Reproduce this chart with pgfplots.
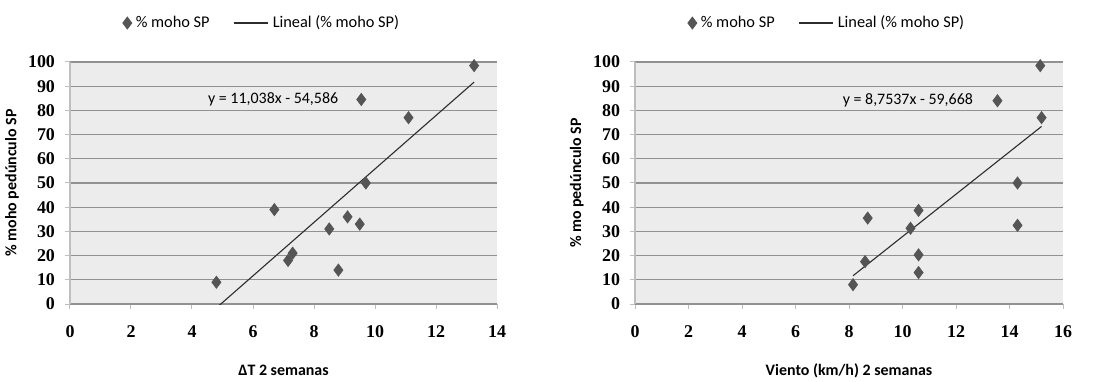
\documentclass[border=0pt]{standalone}
\usepackage{fontspec}
\setmainfont{Carlito}
\newfontfamily\tickfont{Liberation Serif}
\usepackage{pgfplots}
\pgfplotsset{compat=1.18}
\definecolor{bgcol}{RGB}{236,236,236}
\definecolor{gridcol}{RGB}{145,145,145}
\definecolor{yaxcol}{RGB}{190,190,190}
\definecolor{markcol}{RGB}{85,85,85}
\definecolor{linecol}{RGB}{45,45,45}
\pgfplotsset{
  mystyle/.style={
    scale only axis, height=121bp,
    axis background/.style={fill=bgcol},
    axis x line*=bottom, axis y line*=left,
    x axis line style={draw=gridcol, line width=0.7bp},
    y axis line style={draw=yaxcol, line width=0.6bp},
    ymin=0, ymax=100, ytick={0,10,...,100},
    ymajorgrids, grid style={draw=gridcol, line width=0.65bp},
    tick align=outside, major tick length=2.5bp,
    xtick style={draw=yaxcol, line width=0.5bp},
    ytick style={draw=yaxcol, line width=0.5bp},
    /pgf/number format/assume math mode=true,
    ticklabel style={font=\tickfont\bfseries\fontsize{9}{10}\selectfont},
    xticklabel style={yshift=-5bp},
    yticklabel style={xshift=-1.5bp},
    label style={font=\bfseries\fontsize{8}{9}\selectfont},
    legend style={draw=none, fill=none, legend columns=2,
      font=\fontsize{8.2}{9}\selectfont,
      /tikz/every even column/.append style={column sep=10bp}},
    legend cell align=left,
    clip=true,
  },
  sc/.style={only marks, mark=diamond*, mark size=3bp, mark options={fill=markcol, draw=markcol}},
  tl/.style={draw=linecol, line width=0.55bp, no marks},
}
\begin{document}
\begin{tikzpicture}
\useasboundingbox (0,0) rectangle (549.5bp,191bp);
\begin{axis}[mystyle, width=213.5bp, at={(35bp,39bp)}, anchor=south west,
  xmin=0, xmax=14, xtick={0,2,...,14},
  xlabel={ΔT 2 semanas}, ylabel={\% moho pedúnculo SP},
  xlabel style={at={(axis description cs:0.5,-0.275)}, anchor=center},
  ylabel style={at={(axis description cs:-0.136,0.5)}, anchor=center},
  legend style={at={(0.452,1.161)}, anchor=center}]
\addplot[sc] coordinates {
(4.8,9) (6.7,39) (7.15,18) (7.3,21) (8.5,31) (8.8,14) (9.1,36) (9.5,33) (9.7,50) (11.1,77) (9.55,84.5) (13.25,98.5)
};
\addlegendentry{\% moho SP}
\addplot[tl] coordinates {(4.8,-1.6) (13.25,91.7)};
\addlegendentry{Lineal (\% moho SP)}
\node[font=\fontsize{8}{9}\selectfont] at (axis cs:6.66,84.7) {y = 11,038x - 54,586};
\end{axis}
\begin{axis}[mystyle, width=214bp, at={(317.5bp,39bp)}, anchor=south west,
  xmin=0, xmax=16, xtick={0,2,...,16},
  xlabel={Viento (km/h) 2 semanas}, ylabel={\% mo pedúnculo SP},
  xlabel style={at={(axis description cs:0.5,-0.275)}, anchor=center},
  ylabel style={at={(axis description cs:-0.136,0.5)}, anchor=center},
  legend style={at={(0.451,1.161)}, anchor=center}]
\addplot[sc] coordinates {
(15.15,98.5) (13.55,84) (15.2,77) (14.3,50) (14.3,32.5) (8.7,35.5) (10.6,38.7) (10.3,31.3) (10.6,20.3) (8.6,17.5) (10.6,13) (8.15,8)
};
\addlegendentry{\% moho SP}
\addplot[tl] coordinates {(8.15,11.67) (15.2,73.39)};
\addlegendentry{Lineal (\% moho SP)}
\node[font=\fontsize{8}{9}\selectfont] at (axis cs:10.2,84) {y = 8,7537x - 59,668};
\end{axis}
\end{tikzpicture}
\end{document}
